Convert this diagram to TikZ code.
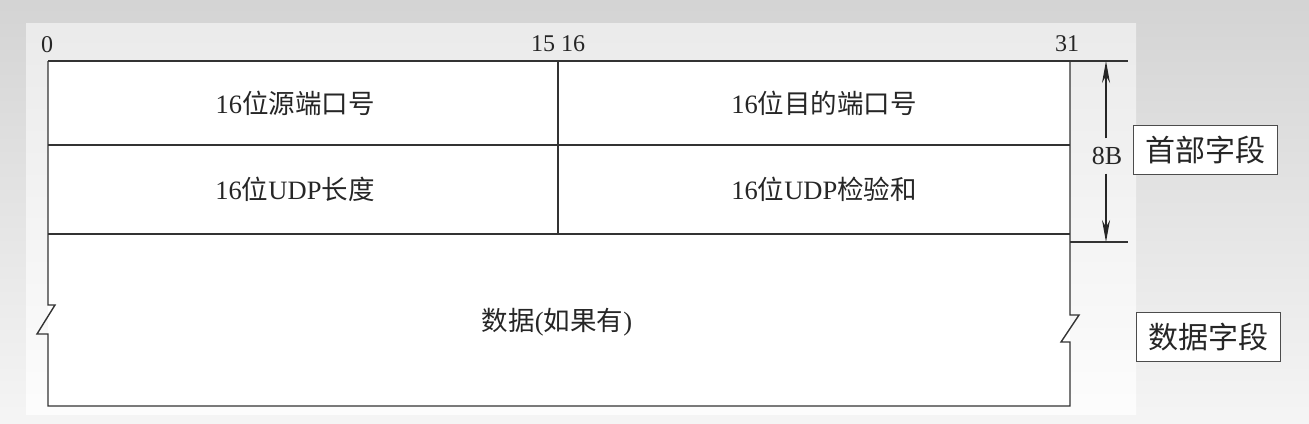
\documentclass[tikz,border=0pt]{standalone}
\usepackage{fontspec}
\setmainfont{Liberation Serif}
\newfontfamily\cjk{Noto Sans CJK SC}
\usetikzlibrary{arrows.meta}
\begin{document}
\begin{tikzpicture}[x=1pt,y=-1pt,
  frame/.style={line width=1.4pt,draw=black!80},
  lbl/.style={font=\fontsize{26.5}{30}\selectfont, text=black!85, inner sep=0pt},
  num/.style={font=\fontsize{24}{28}\selectfont, text=black!85, inner sep=0pt},
  tag/.style={draw=black!70, line width=1pt, fill=white, text=black!85, font=\fontsize{30}{34}\selectfont\cjk, minimum width=144pt, minimum height=49pt, inner sep=0pt},
  dim/.style={line width=1.2pt, draw=black!85, -{Stealth[length=22pt,width=8pt]}}]
\useasboundingbox (0,0) rectangle (1309,423);
\shade[top color=black!17, bottom color=black!4] (0,0) rectangle (1309,423);
\shade[top color=black!8, bottom color=black!1] (26,23) rectangle (1136,414);
\fill[white] (48,61) rectangle (1070,406);
% coordinates
\coordinate (tl) at (48,61);
\coordinate (tm) at (558,61);
\coordinate (tr) at (1070,61);
\coordinate (ext1) at (1128,61);
\coordinate (r1l) at (48,145);
\coordinate (r1r) at (1070,145);
\coordinate (r2l) at (48,234);
\coordinate (r2m) at (558,234);
\coordinate (r2r) at (1070,234);
\coordinate (h2l) at (1070,242);
\coordinate (ext2) at (1128,242);
\coordinate (bl) at (48,406);
\coordinate (br) at (1070,406);
\coordinate (a1) at (1106,61);
\coordinate (a2) at (1106,242);
% frame
\draw[frame] (tl) -- (ext1);
\draw[frame] (tl) -- (48,305) -- (55,305) -- (37,334) -- (48,334) -- (bl) -- (br)
  -- (1070,342) -- (1061,342) -- (1079,315) -- (1070,315) -- (tr);
\draw[frame] (r1l) -- (r1r);
\draw[frame] (r2l) -- (r2r);
\draw[frame] (tm) -- (r2m);
\draw[frame] (h2l) -- (ext2);
\node[text=black!85, font=\fontsize{26}{28}\selectfont, inner xsep=0pt, minimum height=35pt] (eight) at (1107,156) {8B};
\draw[dim] (eight.north -| a1) -- (a1);
\draw[dim] (eight.south -| a2) -- (a2);
% header bit numbers
\node[num] (n0) at (47,45) {0};
\node[num] (n1516) at (558,44) {15 16};
\node[num] (n31) at (1067,44) {31};
% field labels
\node[lbl] (src) at (295,103) {16{\cjk 位源端口号}};
\node[lbl] (dst) at (824,103) {16{\cjk 位目的端口号}};
\node[lbl] (len) at (295,189) {16{\cjk 位}UDP{\cjk 长度}};
\node[lbl] (chk) at (824,189) {16{\cjk 位}UDP{\cjk 检验和}};
\node[lbl] (data) at (557,322) {{\cjk 数据}({\cjk 如果有})};
% tags
\node[tag] (hdr) at (1205,150) {首部字段};
\node[tag] (dat) at (1208,337) {数据字段};
\end{tikzpicture}
\end{document}
